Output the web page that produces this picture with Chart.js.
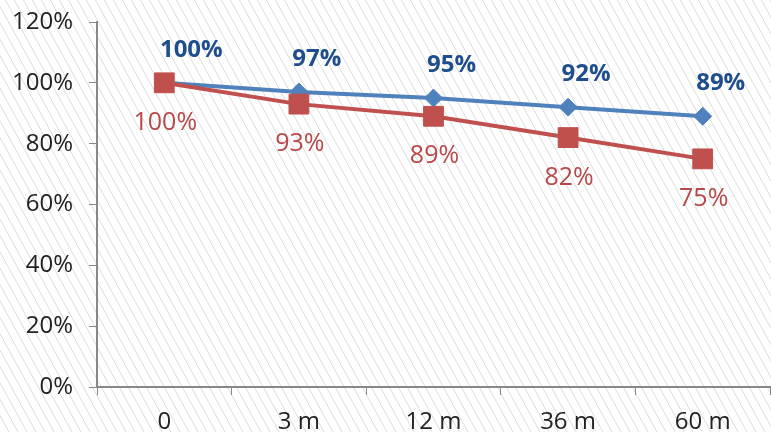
<!DOCTYPE html>
<html>
<head>
<meta charset="utf-8">
<style>
  html, body { margin: 0; padding: 0; background: #fff; }
  #wrap { width: 771px; height: 432px; }
</style>
</head>
<body>
<div id="wrap">
  <canvas id="myChart" width="771" height="432"></canvas>
</div>

<script src="https://cdn.jsdelivr.net/npm/chart.js"></script>
<script>
// chart values
const periods = ['0', '3 m', '12 m', '36 m', '60 m'];
const blueValues = [100, 97, 95, 92, 89];
const redValues = [100, 93, 89, 82, 75];
const yTicks = [0, 20, 40, 60, 80, 100, 120];

const ctx = document.getElementById('myChart');

// diagonal hatch behind everything
const hatchPlugin = {
  id: 'hatch',
  beforeDraw(chart) {
    const c = chart.ctx;
    const w = chart.width, h = chart.height;
    c.save();
    c.fillStyle = '#ffffff';
    c.fillRect(0, 0, w, h);
    c.strokeStyle = '#dcdcdc';
    c.lineWidth = 1;
    const slope = 0.55;
    c.beginPath();
    for (let x = -h * slope; x < w + 10; x += 9) {
      c.moveTo(x, 0);
      c.lineTo(x + h * slope, h);
    }
    c.stroke();
    c.restore();
  }
};

// value labels (blue above, red below)
const labelPlugin = {
  id: 'valueLabels',
  afterDatasetsDraw(chart) {
    const c = chart.ctx;
    c.save();
    c.textAlign = 'center';
    c.textBaseline = 'middle';
    chart.data.datasets.forEach((ds, i) => {
      const meta = chart.getDatasetMeta(i);
      meta.data.forEach((pt, j) => {
        const txt = ds.data[j] + '%';
        if (ds.label === 'blue') {
          c.font = 'bold 24px "Open Sans"';
          c.fillStyle = '#1f4e8c';
          const shift = j === 0 ? 27 : 18;
          c.fillText(txt, pt.x + shift, pt.y - 33);
        } else {
          c.font = '25px "Open Sans"';
          c.fillStyle = '#b8494a';
          c.fillText(txt, pt.x + 1, pt.y + 40);
        }
      });
    });
    c.restore();
  }
};

new Chart(ctx, {
  type: 'line',
  data: {
    labels: periods,
    datasets: [
      {
        label: 'red',
        data: redValues,
        borderColor: '#c0504d',
        backgroundColor: '#c0504d',
        borderWidth: 4,
        pointStyle: 'rect',
        pointRadius: 14,
        pointBorderWidth: 1,
        tension: 0
      },
      {
        label: 'blue',
        data: blueValues,
        borderColor: '#4f81bd',
        backgroundColor: '#4f81bd',
        borderWidth: 4,
        pointStyle: 'rectRot',
        pointRadius: 9,
        pointBorderWidth: 1,
        tension: 0
      }
    ]
  },
  options: {
    responsive: false,
    animation: false,
    layout: { autoPadding: false, padding: { top: 22, right: 1, left: 0, bottom: 0 } },
    plugins: {
      legend: { display: false },
      tooltip: { enabled: false }
    },
    scales: {
      x: {
        offset: true,
        grid: {
          offset: true,
          drawOnChartArea: false,
          color: '#888888',
          tickLength: 8
        },
        border: { color: '#888888', width: 2 },
        ticks: {
          color: '#222222',
          font: { family: '"Open Sans"', size: 24 },
          padding: 13,
          maxRotation: 0
        },
        afterFit(scale) {
          scale.height = 45;
          scale.paddingLeft = 0;
          scale.paddingRight = 0;
        }
      },
      y: {
        min: 0,
        max: 120,
        afterBuildTicks(scale) {
          scale.ticks = yTicks.map(v => ({ value: v }));
        },
        grid: {
          drawOnChartArea: false,
          color: '#888888',
          tickLength: 8
        },
        border: { color: '#888888', width: 2 },
        ticks: {
          color: '#222222',
          font: { family: '"Open Sans"', size: 24 },
          padding: 16,
          callback: v => v + '%'
        },
        afterFit(scale) {
          scale.width = 97;
          scale.paddingTop = 0;
          scale.paddingBottom = 0;
        }
      }
    }
  },
  plugins: [hatchPlugin, labelPlugin]
});
</script>
</body>
</html>
